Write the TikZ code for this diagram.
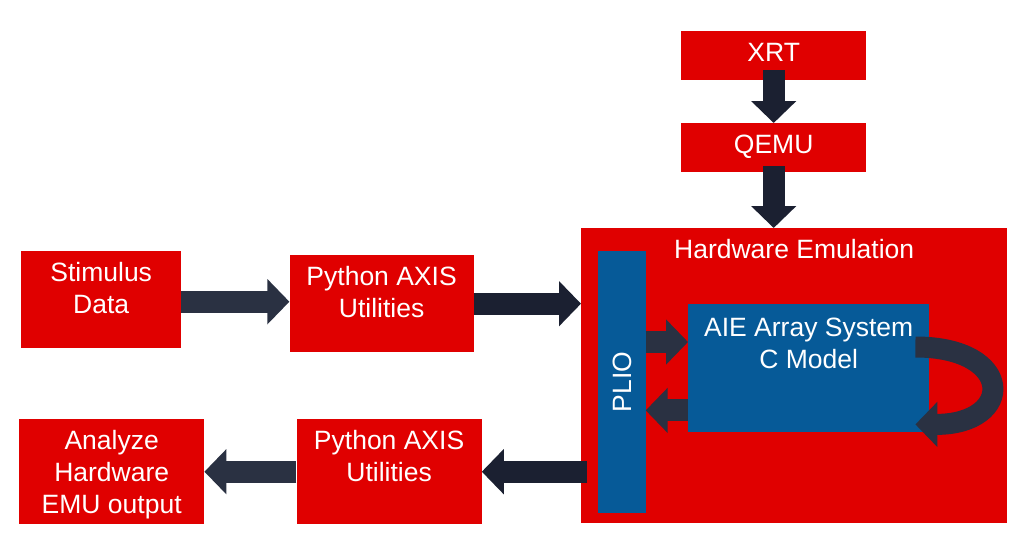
\documentclass[tikz,border=0pt]{standalone}
\usepackage{fontspec}
\setmainfont{Liberation Sans}
\usetikzlibrary{arrows.meta, positioning, calc}
\definecolor{emured}{RGB}{224,0,0}
\definecolor{aieblue}{RGB}{6,90,152}
\definecolor{darknavy}{RGB}{27,32,49}
\definecolor{slatenavy}{RGB}{42,49,66}

\begin{document}
\begin{tikzpicture}[
  x=1pt, y=-1pt,
  font=\fontsize{26.5}{32}\selectfont,
  box/.style={rectangle, fill=emured, text=white, inner sep=0pt, align=center, text height=30.5pt},
  bluebox/.style={box, fill=aieblue},
  flow/.style={-{Triangle[length=22pt, width=44pt]}, line width=22pt, draw=darknavy},
  lightflow/.style={flow, draw=slatenavy}
]
\useasboundingbox (0,0) rectangle (1018,538);

% Top chain: XRT -> QEMU
\node[box, anchor=north west, minimum width=185pt, text depth=18.5pt] (qemu) at (681,123) {QEMU};
\node[box, above=43pt of qemu, minimum width=185pt, text depth=18.5pt] (xrt) {XRT};

% Emulation block with PLIO and the AIE model
\node[box, anchor=north west, minimum width=426pt, text depth=264.5pt] (hwemu) at (581,228) {Hardware Emulation};
\node[bluebox, rotate=90, minimum width=262pt, minimum height=48pt, text height=19pt, text depth=0pt] (plio) at (621.5,382) {PLIO};
\node[bluebox, anchor=north west, minimum width=241pt, text height=64.5pt, text depth=63.5pt] (aie) at (688,304) {AIE Array System\\C Model};

% Input side
\node[box, anchor=north west, minimum width=160pt, text height=62.5pt, text depth=34.5pt] (stim) at (21,251) {Stimulus\\Data};
\node[box, right=108pt of stim, yshift=-4pt, minimum width=184pt, text height=62.5pt, text depth=34.5pt] (pyin) {Python AXIS\\Utilities};

% Output side
\node[box, anchor=north west, minimum width=185pt, text height=94.5pt, text depth=10.5pt] (analyze) at (19,419) {Analyze\\Hardware\\EMU output};
\node[box, right=92pt of analyze, minimum width=185pt, text height=62.5pt, text depth=42.5pt] (pyout) {Python AXIS\\Utilities};

\coordinate (aiein) at ($(aie.north west)+(0,38)$);
\coordinate (aieout) at ($(aie.south west)+(0,-22)$);
\coordinate (loopout) at ($(aie.north east)+(-14,43)$);
\coordinate (loopin) at ($(aie.south east)+(-14,-8)$);

\draw[flow] ([yshift=10pt]xrt.south) -- (qemu.north);
\draw[flow] ([yshift=6pt]qemu.south) -- (qemu.south |- hwemu.north);
\draw[lightflow] ([yshift=-2pt]stim.east) -- ([yshift=-2pt]stim.east -| pyin.west);
\draw[flow] (pyin.east) -- (pyin.east -| hwemu.west);
\draw[lightflow] (plio.south |- aiein) -- (aiein);
\draw[lightflow] (aieout) -- (plio.south |- aieout);
\draw[lightflow, line width=21pt] (loopout) to[out=0, in=0, looseness=3.3] (loopin);
\draw[flow] ($(hwemu.west |- pyout.east)+(6,0)$) -- (pyout.east);
\draw[lightflow] (pyout.west) -- (analyze.east |- pyout.west);

\end{tikzpicture}
\end{document}
